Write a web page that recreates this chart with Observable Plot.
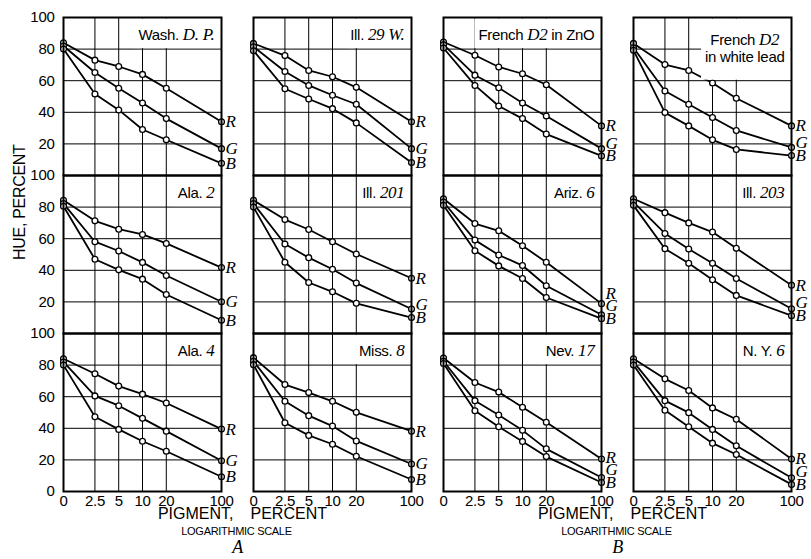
<!DOCTYPE html>
<html><head><meta charset="utf-8">
<script src="https://cdn.jsdelivr.net/npm/d3@7"></script>
<script src="https://cdn.jsdelivr.net/npm/@observablehq/plot@0.6"></script>
<style>
body{margin:0;background:#fff;}
#chart{width:811px;height:559px;overflow:hidden;}
</style></head><body><div id="chart"></div>
<script>
// ---------- data ----------
const panelTitles = [
  "Wash. _D. P._", "Ill. _29 W._", "French _D2_ in ZnO", "French _D2_\nin white lead",
  "Ala. _2_", "Ill. _201_", "Ariz. _6_", "Ill. _203_",
  "Ala. _4_", "Miss. _8_", "Nev. _17_", "N. Y. _6_"
];
const pigment = [0, 2.5, 5, 10, 20, 100];
const pigmentGrid = [2.5, 5, 10, 20];
const hueTicks = [20, 40, 60, 80, 100];
const hueGrid = [20, 40, 60, 80];
const hueZero = [0];
const seriesNames = ["R", "G", "B"];
const hueR = [
  [84, 73, 69, 64, 55.2, 34],
  [83.6, 75.9, 66.5, 62.5, 55.8, 34],
  [84.5, 76.1, 68.7, 64.4, 57.4, 31.4],
  [83.6, 70.2, 66.5, 58.5, 48.9, 31.4],
  [84.3, 71.3, 66, 62.7, 57, 41.7],
  [84.3, 72.1, 65.8, 58.1, 50.3, 35],
  [85.3, 69.6, 65, 55.5, 45.1, 18.9],
  [85.3, 76.5, 70, 64.2, 53.9, 30.6],
  [84, 74.5, 66.7, 61.6, 56, 39.5],
  [84.7, 67.7, 62.6, 57.1, 50.1, 38.2],
  [84.5, 69, 62.9, 53.3, 43.8, 20.6],
  [84, 71.3, 63.9, 52.9, 45.7, 20.6]
];
const hueG = [
  [82, 65.2, 55.2, 45.9, 36, 17],
  [81.5, 65.8, 57, 50.8, 45.1, 17],
  [82.8, 63.5, 55.5, 45.9, 37.7, 17],
  [80.9, 53.5, 45.1, 36.7, 28.5, 17.8],
  [82.2, 58.1, 52.2, 45, 36.7, 20.1],
  [82.2, 56.6, 48, 40.7, 31.9, 15.5],
  [83.2, 59.1, 49.7, 43, 30.2, 11.9],
  [83.2, 63.3, 53.5, 44.4, 34.8, 15.7],
  [82, 60.5, 54.3, 46.3, 38.2, 19.5],
  [82.4, 57.1, 48, 41.4, 32, 17.4],
  [82.4, 57.5, 48.4, 38.7, 27, 8.9],
  [82, 57.5, 49.9, 39.3, 28.9, 8.7]
];
const hueB = [
  [80, 51.6, 41.5, 29.1, 22.6, 7.7],
  [79, 54.9, 48.4, 42.3, 33.3, 8.2],
  [80.7, 57, 44, 36, 26.2, 12.4],
  [79.2, 39.8, 31.4, 22.6, 16.5, 12.6],
  [80.5, 47, 40.3, 34.4, 24.7, 8.4],
  [80, 45.1, 32.3, 26.4, 19.1, 10.1],
  [81.1, 52.4, 42.8, 34.8, 22.8, 9.4],
  [81.1, 53.7, 44.4, 34, 24.1, 11.3],
  [80, 47.3, 39.3, 31.8, 25.5, 9.3],
  [80.3, 43.5, 35.5, 29.9, 22.3, 7.6],
  [81, 51.1, 41, 31.7, 22.1, 5.7],
  [80, 51.4, 41, 30.6, 23.4, 4.5]
];
const groupLetters = ["A", "B"];
const yTitle = "HUE, PERCENT";
const xTitleLeft = "PIGMENT,";
const xTitleRight = "PERCENT";
const xSubtitle = "LOGARITHMIC SCALE";

// ---------- build tables ----------
const NCOL = 4;
const seriesArrays = [hueR, hueG, hueB];
const rows = [];
panelTitles.forEach((t, p) => {
  seriesNames.forEach((s, si) => {
    pigment.forEach((x, i) => rows.push({p, col: p % NCOL, row: Math.floor(p / NCOL), s, x, hue: seriesArrays[si][p][i]}));
  });
});
const panels = panelTitles.map((t, p) => ({p, col: p % NCOL, row: Math.floor(p / NCOL), title: t}));

// end labels: keep the lowest at its point, push the others up to avoid overlap
function pushUp(vals, gap) {
  const order = d3.range(vals.length).sort((a, b) => vals[a] - vals[b]);
  const pos = vals.slice();
  for (let k = 1; k < order.length; k++) {
    pos[order[k]] = Math.max(vals[order[k]], pos[order[k - 1]] + gap);
  }
  return pos;
}
const endLabels = [];
panels.forEach(pn => {
  const last = seriesArrays.map(a => a[pn.p][a[pn.p].length - 1]);
  const pos = pushUp(last, 8);
  seriesNames.forEach((s, si) => endLabels.push({col: pn.col, row: pn.row, s, ly: pos[si]}));
});
const lastRow = Math.floor((panelTitles.length - 1) / NCOL);
const captions = groupLetters.map((letter, i) => ({letter, col: i * 2, row: lastRow}));

// the figure draws pigment 0 at the origin of its logarithmic axis (1 %)
const xPos = d => (d.x === 0 ? 1 : d.x);
const pigmentPos = pigment.map(v => (v === 0 ? 1 : v));

const SANS = '"Liberation Sans", Arial, sans-serif';
const SERIF = '"Liberation Serif", "Times New Roman", serif';

const plot = Plot.plot({
  width: 811, height: 559,
  marginTop: 16, marginBottom: 68, marginLeft: 63, marginRight: 20,
  style: {fontFamily: SANS, fontSize: "15px", color: "black", background: "white", overflow: "visible", letterSpacing: "-0.3px"},
  x: {type: "log", domain: [1, 100]},
  y: {domain: [0, 100]},
  fx: {domain: d3.range(NCOL), axis: null, paddingInner: 32 / 190, paddingOuter: 0},
  fy: {domain: d3.range(lastRow + 1), axis: null, padding: 0},
  marks: [
    Plot.gridX({ticks: pigmentGrid, stroke: "black", strokeOpacity: 1, strokeWidth: 1}),
    Plot.gridY({ticks: hueGrid, stroke: "black", strokeOpacity: 1, strokeWidth: 1}),
    Plot.line(rows, {x: xPos, y: "hue", z: "s", fx: "col", fy: "row", stroke: "black", strokeWidth: 1.8}),
    Plot.dot(rows, {x: xPos, y: "hue", fx: "col", fy: "row", r: 2.9, fill: "white", stroke: "black", strokeWidth: 1.3}),
    Plot.text(panels, {fx: "col", fy: "row", frameAnchor: "top-right", text: d => d.title.split("\n")[0].replace(/_/g, ""),
      textAnchor: "end", fontSize: 15}),
    Plot.frame({stroke: "black", strokeWidth: 2}),
    Plot.text(endLabels, {fx: "col", fy: "row", x: 100, y: "ly", text: "s", textAnchor: "start", dx: 4,
      fontFamily: SERIF, fontStyle: "italic", fontSize: 17}),
    Plot.axisY({ticks: hueTicks, tickSize: 0, tickPadding: 9, label: null, fontSize: 15}),
    Plot.text(hueZero, {fx: () => 0, fy: () => lastRow, frameAnchor: "left", y: d => d, text: d => String(d),
      textAnchor: "end", dx: -9, fontSize: 15}),
    Plot.axisX({ticks: pigmentPos, tickFormat: d => String(pigment[pigmentPos.indexOf(d)]), tickSize: 0, tickPadding: 4, label: null, fontSize: 15}),
    Plot.text([yTitle], {fx: () => 0, fy: () => 1, frameAnchor: "left", rotate: -90, dx: -44, dy: 5.5, text: d => d, fontSize: 16, letterSpacing: "0px"}),
    Plot.text(captions, {fx: "col", fy: "row", frameAnchor: "bottom-right", text: () => xTitleLeft, textAnchor: "end", dx: 12, dy: 27.5, fontSize: 16}),
    Plot.text(captions, {fx: "col", fy: "row", frameAnchor: "bottom-right", text: () => xTitleRight, textAnchor: "start", dx: 29, dy: 27.5, fontSize: 16}),
    Plot.text(captions, {fx: "col", fy: "row", frameAnchor: "bottom-right", text: () => xSubtitle, textAnchor: "middle", dx: 15, dy: 43, fontSize: 11}),
    Plot.text(captions, {fx: "col", fy: "row", frameAnchor: "bottom-right", text: "letter", textAnchor: "middle", dx: 16, dy: 61,
      fontFamily: SERIF, fontStyle: "italic", fontSize: 18})
  ]
});
document.getElementById("chart").append(plot);

// ---------- panel titles: mixed roman / italic runs with a white box behind ----------
const svgNS = "http://www.w3.org/2000/svg";
const yS = plot.scale("y");
const titleLookup = new Map(panelTitles.map((t, i) => [t.split("\n")[0].replace(/_/g, ""), i]));
const allText = Array.from(plot.querySelectorAll("text"));
allText.forEach(el => {
  const c = el.textContent;
  if (c === xTitleLeft || c === xTitleRight) el.setAttribute("letter-spacing", "0");
});
const titleEls = allText.filter(el => titleLookup.has(el.textContent));
titleEls.forEach(el => {
  const idx = titleLookup.get(el.textContent);
  const lines = panelTitles[idx].split("\n");
  while (el.firstChild) el.removeChild(el.firstChild);
  el.removeAttribute("y"); el.removeAttribute("dy");
  const base = lines.length > 1 ? 27 : 22;
  const lineEls = lines.map((line, li) => {
    const lt = document.createElementNS(svgNS, "tspan");
    lt.setAttribute("x", -7);
    lt.setAttribute("y", base + li * 17);
    line.split("_").forEach((part, pi) => {
      if (!part) return;
      const ts = document.createElementNS(svgNS, "tspan");
      if (pi % 2) { ts.setAttribute("font-family", SERIF); ts.setAttribute("font-style", "italic"); ts.setAttribute("font-size", 17); }
      ts.textContent = part;
      lt.append(ts);
    });
    el.append(lt);
    return lt;
  });
  if (lines.length > 1) {
    const w = d3.max(lineEls, l => l.getComputedTextLength());
    el.setAttribute("text-anchor", "middle");
    lineEls.forEach(l => l.setAttribute("x", -7 - w / 2));
  }
  const bb = el.getBBox();
  const bottom = yS.apply(lines.length > 1 ? 60 : 80) - yS.apply(100) - 1;
  const rect = document.createElementNS(svgNS, "rect");
  const tr = el.getAttribute("transform");
  if (tr) rect.setAttribute("transform", tr);
  rect.setAttribute("x", bb.x - 4);
  rect.setAttribute("y", 1);
  rect.setAttribute("width", -1 - (bb.x - 4));
  rect.setAttribute("height", bottom - 1);
  rect.setAttribute("fill", "white");
  el.parentNode.insertBefore(rect, el);
});
</script>
</body></html>
